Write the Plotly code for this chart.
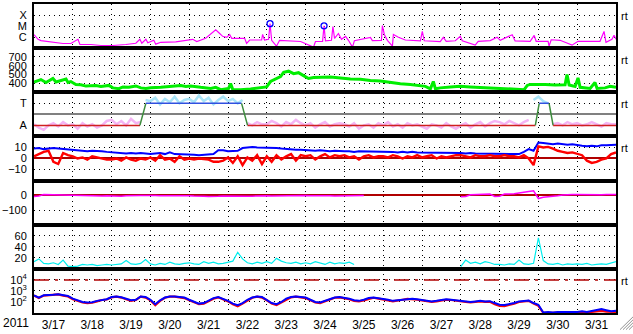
import plotly.graph_objects as go
from plotly.subplots import make_subplots
import pandas as pd

BASE = pd.Timestamp("2011-03-17")

def tt(hours):
    return [BASE + pd.Timedelta(hours=h) for h in hours]

# ---------------- data ----------------
# Panel 1: X-ray flux (log10 W/m2)
xray_hours = [0,1.2,2.5,4.3,9.3,13.6,17.9,22.8,27.2,28.4,35.2,41.4,48.8,56.8,63,65.5,66.7,69.2,70.4,74.1,
              75.3,78.4,87.7,98.2,100.7,106.2,109.3,112.4,114.2,116.7,119.2,121,122.3,130.3,131.5,133.4,140.8,141.4,142.6,145.1,
              146,147,150,151.9,164.9,172.9,174.1,178.5,179.4,180.3,184,184.9,185.9,188.3,190.2,192.7,194.5,197,198.2,208.1,
              209.3,214.9,215.5,216.7,218.6,221.7,222.3,225.4,229.7,239,240.2,241.4,251.3,253.2,255,260.6,263.7,264.9,272.9,274.8,
              282.2,286.5,288.4,295.8,297.6,306.9,309.4,310.6,318,318.6,319.9,325.4,328.5,332.8,336.5,350.1,352.6,353.8,357.5,358.8,360]
xray_log = [-5.78,-6.02,-6.2,-6.32,-6.42,-6.47,-6.58,-6.58,-6.2,-6.67,-6.67,-6.76,-6.76,-6.67,-6.56,-6.2,-6.56,-6.2,-6.51,-6.29,
            -6.64,-6.47,-6.44,-6.2,-6.4,-6.11,-5.76,-5.34,-5.58,-5.93,-6.02,-5.76,-6.11,-6.11,-6.56,-6.26,-6.26,-5.76,-6.26,-6.2,
            -4.78,-6.29,-6.82,-6.29,-6.4,-6.91,-6.4,-6.38,-4.98,-6.33,-6.29,-5.04,-6.11,-5.67,-6.2,-5.93,-6.29,-6.91,-6.32,-6.02,
            -6.32,-6.29,-4.96,-5.76,-6.29,-6.82,-5.76,-6.02,-6.26,-6.33,-5.49,-6.33,-6.4,-6.02,-6.38,-6.33,-5.93,-6.33,-6.73,-6.38,
            -6.32,-6.02,-6.29,-5.78,-6.35,-6.38,-5.84,-6.38,-6.38,-6.82,-6.24,-6.29,-6.47,-6.73,-6.38,-6.38,-5.49,-6.47,-6.2,-5.84,-6.2]
flare_hours = [146, 179.4]
flare_log = [-4.78, -4.98]
xray_ticks = [1e-6, 1e-5, 1e-4]
xray_labels = ["C", "M", "X"]

# Panel 2: solar wind speed (km/s)
wind_hours = [0,4.3,7.4,11.7,13.6,16.7,19.8,21,22.8,25.9,29,32.1,38.3,41.4,46.3,48.8,52.5,55,58.7,63,
              66.1,69.2,72.2,78.4,84.6,90.8,93.9,96.9,103.1,109.3,112.4,115.5,120.4,121.6,122.9,127.8,134,140.2,143.9,146.3,
              149.4,152.5,154.4,157.5,160.6,163.6,166.7,169.8,172.9,177.2,183.4,189.6,195.7,201.9,208.1,214.3,220.4,226.6,232.8,239,
              242.1,245.2,247,248.3,251.3,257.5,263.7,269.8,276,282.2,288.4,294.5,299.5,303.2,305.1,306.9,316.2,322.3,328.5,329.7,
              331,334.7,336.5,337.8,344,347,348.3,353.2,356.3,360]
wind_speed = [414,444,411,456,417,433,450,411,422,389,386,370,378,367,378,350,341,361,356,372,
              350,344,352,356,367,378,367,372,356,344,356,330,344,400,333,328,337,350,361,422,
              450,478,526,539,511,522,489,456,467,472,472,461,450,448,433,428,411,397,389,378,
              367,339,422,339,350,361,367,361,356,350,344,341,333,330,378,389,389,383,386,500,
              383,367,463,356,344,411,344,350,367,356]

# 3-hourly series (hours 0..360)
hours3 = list(range(0, 361, 3))

# Panel 3: IMF sector (predicted) and observed
sector_hours = [0, 65.5, 69.2, 128.4, 132.1, 310.1, 312.5, 318.6, 321.1, 360]
sector_vals = [-1, -1, 1, 1, -1, -1, 1, 1, -1, -1]
away_obs = [-0.9,-1.2,-1.4,-1.0,-0.8,-1.1,-0.7,-1.0,
            -0.9,-1.3,-0.8,-1.1,-0.9,-1.2,-1.0,-0.6,
            -0.5,-0.9,-0.6,-1.0,-0.4,-0.8,-0.7,None,
            None,None,None,None,None,None,None,None,
            None,None,None,None,None,None,None,None,
            None,None,None,None,-0.8,-1.0,-0.7,-0.9,
            -0.9,-0.6,-0.8,-1.1,-0.7,-0.9,-0.5,-0.8,
            -1.0,-0.8,-1.2,-0.9,-0.7,-1.1,-0.9,-0.8,
            -0.9,-1.1,-0.8,-1.3,-1.0,-0.9,-1.2,-0.8,
            -1.0,-0.7,-1.1,-0.9,-1.2,-0.8,-1.0,-0.9,
            -1.1,-1.3,-0.9,-1.0,-1.2,-0.8,-1.1,-1.3,
            -1.0,-0.8,-1.2,-0.9,-0.7,-1.1,-0.8,-0.6,
            -0.7,-0.9,-0.6,-0.8,-1.0,-0.7,-0.5,None,
            None,None,None,-0.9,-0.8,-1.0,-0.7,-0.9,
            -0.8,-1.0,-0.9,-0.7,-0.9,-1.1,-0.8,-0.9,
            -0.9]
toward_hours = [69,72,75,78,81,84,87,90,93,96,99,102,105,108,111,114,117,120,123,126,129,
                200,309,312,315,318]
toward_obs = [1.3,1.2,1.5,0.9,1.4,1.1,1.6,1.0,1.3,1.4,1.1,1.7,1.2,1.5,0.9,1.3,1.6,1.2,1.4,1.0,1.3,
              None,1.3,1.6,1.2,1.0]

# Panel 4: IMF Bt and Bz (nT)
bt = [9,9.5,8.5,9,9.5,9,8.5,8,
      7.5,7,7,6.5,7,7,6.5,6,
      5.5,5,5,4.5,5,4.5,5,4.5,
      4,4.5,5,4,5.5,4,4,3.5,
      3.5,3.5,3,3.5,3.5,4,7.5,7.5,
      6.5,6.5,7,9.5,10,10.5,10,10,
      10,10,9.5,9,8.5,8.5,8,8,
      7.5,7.5,7,7.5,7,6.5,7,6.5,
      6.5,6.5,6,6.5,6.5,6,6.5,6,
      6,6.5,6,5.5,6,5.5,6,5.5,
      5.5,5,5.5,5,5.5,5,5,5,
      5,4.5,5,4.5,4.5,4,4.5,4,
      4,4.5,4,4.5,4,6,8.5,7,
      14.5,14,13.5,13,13.5,13,12.5,13,
      12,11.5,11,11.5,11,12,12,12.5,
      12.5]
bz = [2,4,6,7,-3,-5,5,3,
      2,0,1,-1,2,1,0,-1,
      -1,0,-2,1,-1,-2,0,-1,
      1,-2,3,-1,0,-3,2,-1,
      0,-1,0,-0.5,-1,-3,-3,-2,
      1,-4,2,-6,1,-2,3,-5,
      2,-3,3,-1,2,4,-2,3,
      2,3,-1,2,4,1,3,2,
      3,1,2,-1,2,3,1,2,
      2,1,3,2,0,2,1,3,
      1,2,3,0,2,1,2,3,
      3,2,1,3,2,2,3,2,
      2,3,2,2,1,3,0,-6,
      11,10,10.5,9,7,6,5,5.5,
      4,3,-2,-4,-3,-1,0,4,
      5.5]

# Panel 5: Dst (nT)
dst = [-8,-5,5,4,3,2,0,-2,
       -3,-4,-5,-3,-4,-6,-5,-4,
       -6,-5,-7,-4,-5,-3,-2,-1,
       0,-2,-4,-3,-5,-2,0,-1,
       -3,-5,-4,-6,-8,-10,-7,-5,
       -6,-8,-5,-9,-7,-6,-4,-5,
       -3,-5,-4,-6,-3,-2,-4,-3,
       -2,-4,-3,-1,-2,-3,-5,-4,
       -3,-4,-2,-3,-2,None,None,None,
       None,None,None,None,None,None,None,None,
       None,None,None,None,None,None,None,None,
       -10,-8,4,5,8,7,8,-8,
       -6,8,7,10,15,18,25,30,
       -22,-14,-12,-8,-3,2,5,5,
       5,4,6,3,5,4,6,5,
       5]

# Panel 6: cyan index
cyan = [13,18,10,9,11,8,16,5,
        4,5,8,7,8,6,7,8,
        7,8,9,15,9,8,10,17,
        9,7,10,8,12,9,8,10,
        11,9,8,13,10,12,9,10,
        12,14,30,18,11,9,12,10,
        13,10,19,14,11,10,12,9,
        11,9,13,10,8,12,9,11,
        10,12,8,None,None,None,None,None,
        None,None,None,None,None,None,None,None,
        None,None,None,None,None,None,None,None,
        4,16,10,12,9,13,11,8,
        8,7,9,8,16,9,8,10,
        56,15,9,8,10,7,9,8,
        9,8,10,7,8,9,8,11,
        13]

# Panel 7: >2MeV electron flux (log10), two satellites
elec_blue = [2.6,2.4,2.6,2.6,2.65,2.7,2.6,2.55,
             2.3,2.15,2.0,1.95,1.97,2.1,2.2,2.25,
             2.45,2.5,2.42,2.3,2.15,2.2,2.5,2.45,
             2.2,1.8,2.15,2.4,2.5,2.5,2.45,2.4,
             2.2,2.0,1.85,1.9,2.1,2.35,2.45,2.3,
             2.1,1.85,1.7,1.9,2.2,2.4,2.5,2.45,
             2.2,1.9,1.8,2.0,2.3,2.45,2.5,2.45,
             2.4,2.2,2.0,1.95,2.1,2.3,2.4,2.45,
             2.4,2.3,2.15,2.1,2.2,2.35,2.4,2.35,
             2.3,2.2,2.1,2.15,2.25,2.3,2.3,2.25,
             2.2,2.1,2.05,2.1,2.2,2.25,2.2,2.15,
             2.1,2.05,2.0,2.05,2.1,2.05,2.07,1.9,
             1.75,1.72,1.8,1.9,2.05,2.1,2.13,1.9,
             1.75,1.05,1.1,1.05,1.1,1.08,1.12,1.1,
             1.1,1.15,1.1,1.2,1.3,1.35,1.25,1.15,
             1.2]
elec_red = [2.58,2.35,2.58,2.6,2.62,2.68,2.58,2.5,
            2.25,2.1,1.95,1.9,1.93,2.05,2.18,2.22,
            2.42,2.48,2.4,2.25,2.1,2.18,2.48,2.4,
            2.15,1.7,2.1,2.38,2.48,2.48,2.42,2.35,
            2.15,1.95,1.8,1.85,2.05,2.3,2.42,2.25,
            2.05,1.8,1.6,1.85,2.15,2.38,2.48,2.4,
            2.15,1.85,1.72,1.95,2.25,2.42,2.48,2.4,
            2.35,2.15,1.95,1.9,2.05,2.25,2.38,2.42,
            2.35,2.25,2.1,2.05,2.15,2.3,2.38,2.3,
            2.25,2.15,2.05,2.1,2.2,2.28,2.27,2.2,
            2.15,2.05,2.0,2.05,2.15,2.2,2.18,2.1,
            2.05,2.0,1.95,2.0,2.05,2.0,2.02,1.8,
            1.65,1.62,1.72,1.85,2.0,2.08,2.1,1.85,
            1.65,1.02,1.05,1.02,1.04,1.03,1.05,1.04,
            1.04,1.08,1.05,1.1,1.15,1.2,1.12,1.08,
            1.1]
elec_threshold = 1e4

# ---------------- figure ----------------
fig = make_subplots(rows=7, cols=1, shared_xaxes=True, vertical_spacing=0)

# Panel 1
fig.add_trace(go.Scatter(x=tt(xray_hours), y=[10 ** v for v in xray_log], mode="lines",
                         line=dict(color="#ff00ff", width=1.2)), row=1, col=1)
fig.add_trace(go.Scatter(x=tt(flare_hours), y=[10 ** v for v in flare_log], mode="markers",
                         marker=dict(symbol="circle-open", size=6, color="#0000ff", line=dict(width=1.3))),
              row=1, col=1)

# Panel 2
fig.add_trace(go.Scatter(x=tt(wind_hours), y=wind_speed, mode="lines",
                         line=dict(color="#00ee00", width=3)), row=2, col=1)

# Panel 3
fig.add_trace(go.Scatter(x=tt(hours3), y=away_obs, mode="lines", connectgaps=False,
                         line=dict(color="#f4b4f4", width=2.5)), row=3, col=1)
fig.add_trace(go.Scatter(x=tt(toward_hours), y=toward_obs, mode="lines", connectgaps=False,
                         line=dict(color="#a8e4f8", width=2.5)), row=3, col=1)
for i in range(len(sector_hours) - 1):
    v0, v1 = sector_vals[i], sector_vals[i + 1]
    if v0 == v1:
        col = "#d02020" if v0 < 0 else "#3050e0"
    else:
        col = "#3c8c3c"
    fig.add_trace(go.Scatter(x=tt(sector_hours[i:i + 2]), y=sector_vals[i:i + 2], mode="lines",
                             line=dict(color=col, width=1.5)), row=3, col=1)

# Panel 4
fig.add_trace(go.Scatter(x=tt(hours3), y=bt, mode="lines", line=dict(color="#0000ff", width=2)), row=4, col=1)
fig.add_trace(go.Scatter(x=tt(hours3), y=bz, mode="lines", line=dict(color="#ff0000", width=2.4)), row=4, col=1)

# Panel 5
fig.add_trace(go.Scatter(x=tt(hours3), y=dst, mode="lines", connectgaps=False,
                         line=dict(color="#ff00ff", width=1.5)), row=5, col=1)

# Panel 6
fig.add_trace(go.Scatter(x=tt(hours3), y=cyan, mode="lines", connectgaps=False,
                         line=dict(color="#00eeee", width=1.2)), row=6, col=1)

# Panel 7
fig.add_trace(go.Scatter(x=tt([0, 360]), y=[elec_threshold, elec_threshold], mode="lines",
                         line=dict(color="#b00000", width=1.5, dash="15px,6px,3px,6px")), row=7, col=1)
fig.add_trace(go.Scatter(x=tt(hours3), y=[10 ** v for v in elec_red], mode="lines",
                         line=dict(color="#ff0000", width=2.2)), row=7, col=1)
fig.add_trace(go.Scatter(x=tt(hours3), y=[10 ** v for v in elec_blue], mode="lines",
                         line=dict(color="#0000ff", width=2)), row=7, col=1)

FONT = dict(family="Liberation Sans, Arial, sans-serif", size=12, color="black")
YFONT = dict(family="Liberation Sans, Arial, sans-serif", size=11, color="black")
GRID = dict(showgrid=True, gridcolor="black", gridwidth=1, griddash="1px,4px",
            showline=True, mirror=True, linecolor="black", linewidth=2, ticks="")

fig.update_xaxes(type="date", range=[BASE, BASE + pd.Timedelta(days=15)],
                 tick0=BASE, dtick=86400000, ticklabelmode="period", tickformat="%-m/%-d",
                 zeroline=False, tickfont=FONT, **GRID)

yspecs = [
    dict(type="log", range=[-7, -3], tickvals=xray_ticks, ticktext=xray_labels, zeroline=False),
    dict(range=[300, 800], tickvals=[400, 500, 600, 700], zeroline=False),
    dict(range=[-2, 2], tickvals=[-1, 1], ticktext=["A", "T"], zeroline=True,
         zerolinecolor="#808080", zerolinewidth=1.5),
    dict(range=[-20, 20], tickvals=[-10, 0, 10], zeroline=True, zerolinecolor="#b00000", zerolinewidth=1.5),
    dict(range=[-200, 100], tickvals=[-100, 0], zeroline=True, zerolinecolor="#b00000", zerolinewidth=1.5),
    dict(range=[0, 80], tickvals=[20, 40, 60], zeroline=False),
    dict(type="log", range=[1, 5], tickvals=[1e2, 1e3, 1e4],
         ticktext=["10<sup>2</sup>", "10<sup>3</sup>", "10<sup>4</sup>"], zeroline=False),
]
for i, spec in enumerate(yspecs):
    fig.update_yaxes(row=i + 1, col=1, tickfont=YFONT, ticklabelstandoff=3, **GRID, **spec)

# "rt" marks at right of panels 1,2,3,4,7 and year label
annos = []
for r in [1, 2, 3, 4, 7]:
    top = 1 - (r - 1) / 7
    annos.append(dict(text="rt", xref="paper", yref="paper", x=1.006, y=top - 0.012,
                      xanchor="left", yanchor="top", showarrow=False,
                      font=dict(family="Liberation Sans, Arial", size=11, color="black")))
annos.append(dict(text="2011", xref="paper", yref="paper", x=-0.005, y=0, xanchor="right", yanchor="top",
                  yshift=-1, showarrow=False, font=FONT))

# window resize grip in the corner
shapes = []
for k in range(4):
    shapes.append(dict(type="line", xref="paper", yref="paper",
                       x0=(620 + 3 * k - 33) / 583, y0=(317 - 334) / 315,
                       x1=(633 - 33) / 583, y1=(317 - (321 + 3 * k)) / 315,
                       line=dict(color="#909090", width=1)))

fig.update_layout(width=633, height=334, margin=dict(l=33, r=17, t=2, b=17),
                  plot_bgcolor="white", paper_bgcolor="white", showlegend=False,
                  font=FONT, annotations=annos, shapes=shapes)

fig.write_html("out.html")
